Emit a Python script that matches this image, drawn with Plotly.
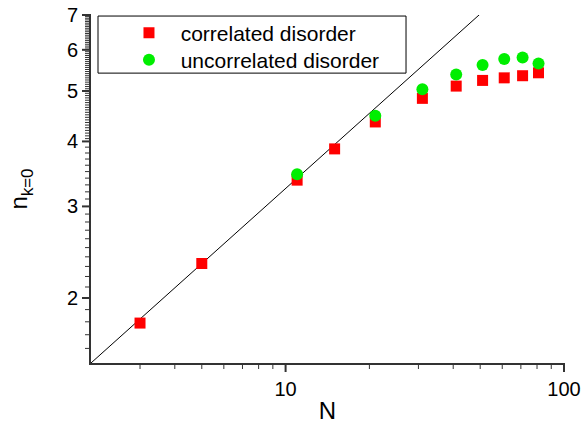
import numpy as np
import plotly.graph_objects as go

# ---- data ----
N_corr = [3, 5, 11, 15, 21, 31, 41, 51, 61, 71, 81]
n_corr = [1.79, 2.33, 3.37, 3.87, 4.36, 4.84, 5.11, 5.24, 5.30, 5.35, 5.42]

N_uncorr = [11, 21, 31, 41, 51, 61, 71, 81]
n_uncorr = [3.46, 4.48, 5.04, 5.38, 5.61, 5.76, 5.80, 5.65]

# power-law guide line  n = A * N^b
FIT_A = 1.0755
FIT_B = 0.48
fit_N = [2, 100]

x_major = [10, 100]
y_major = [2, 3, 4, 5, 6, 7]
x_range = [2, 100]
y_range = [1.5, 7]

FONT = "Liberation Sans, Arial, sans-serif"
AX = "#333333"
W, H = 582, 424
M = dict(l=91, r=18, t=15, b=61)
PW = W - M["l"] - M["r"]
PH = H - M["t"] - M["b"]

fit_n = [FIT_A * v ** FIT_B for v in fit_N]

fig = go.Figure()
fig.add_trace(go.Scatter(x=fit_N, y=fit_n, mode="lines",
                         line=dict(color="black", width=1),
                         showlegend=False, hoverinfo="skip"))
fig.add_trace(go.Scatter(x=N_corr, y=n_corr, mode="markers",
                         name="\u00a0\u00a0correlated disorder", legend="legend",
                         marker=dict(symbol="square", size=11, color="#FF0000",
                                     line=dict(width=0))))
fig.add_trace(go.Scatter(x=N_uncorr, y=n_uncorr, mode="markers",
                         name="\u00a0\u00a0uncorrelated disorder", legend="legend2",
                         marker=dict(symbol="circle", size=12, color="#00EE00",
                                     line=dict(width=0))))

x_minor = [v for d in (1, 10) for v in [k * d for k in range(2, 10)] if v > 2]
y_minor = sorted(set([round(float(v), 2) for v in np.arange(1.6, 4.0, 0.1)] +
                     [round(float(v), 2) for v in np.arange(4.0, 7.0, 0.05)]) - set(y_major))

xr = [float(np.log10(x_range[0])), float(np.log10(x_range[1]))]
yr = [float(np.log10(y_range[0])), float(np.log10(y_range[1]))]


def xfrac(v):
    return (np.log10(v) - xr[0]) / (xr[1] - xr[0])


def yfrac(v):
    return (np.log10(v) - yr[0]) / (yr[1] - yr[0])


# tick marks drawn as paper-referenced shapes, positioned from the tick values
LW = 2
shapes = []
for vals, ln, wd in ((x_major, 7, 2), (x_minor, 4, 1)):
    for v in vals:
        f = float(xfrac(v))
        shapes.append(dict(type="line", xref="paper", yref="paper",
                           x0=f, x1=f, y0=0, y1=-(LW + ln) / PH,
                           line=dict(color=AX, width=wd)))
for vals, ln, wd in ((y_major, 7, 2), (y_minor, 4, 1)):
    for v in vals:
        f = float(yfrac(v))
        shapes.append(dict(type="line", xref="paper", yref="paper",
                           y0=f, y1=f, x0=0, x1=-(LW + ln) / PW,
                           line=dict(color=AX, width=wd)))
# legend frame
shapes.append(dict(type="rect", xref="paper", yref="paper",
                   x0=0.0148, x1=0.666, y0=0.833, y1=0.997,
                   line=dict(color="black", width=1), fillcolor="rgba(0,0,0,0)"))

fig.update_xaxes(type="log", range=xr, tickmode="array", tickvals=x_major,
                 ticktext=[str(v) for v in x_major],
                 ticks="outside", ticklen=7, tickwidth=2, tickcolor="rgba(0,0,0,0)",
                 showline=True, linewidth=LW, linecolor=AX,
                 showgrid=False, zeroline=False, automargin=False,
                 tickfont=dict(family=FONT, size=20, color="black"),
                 title=dict(text="N", font=dict(family=FONT, size=24, color="black")))
fig.update_yaxes(type="log", range=yr, tickmode="array", tickvals=y_major,
                 ticktext=[str(v) for v in y_major],
                 ticks="outside", ticklen=7, tickwidth=2, tickcolor="rgba(0,0,0,0)",
                 showline=True, linewidth=LW, linecolor=AX,
                 showgrid=False, zeroline=False, automargin=False,
                 tickfont=dict(family=FONT, size=20, color="black"),
                 title=dict(text="n<sub>k=0</sub>", font=dict(family=FONT, size=24, color="black"),
                            standoff=32))

leg_common = dict(x=0.0803, xanchor="left", yanchor="middle",
                  bgcolor="rgba(0,0,0,0)", borderwidth=0,
                  font=dict(family=FONT, size=21, color="black"))

fig.update_layout(
    width=W, height=H, margin=M,
    paper_bgcolor="white", plot_bgcolor="white",
    font=dict(family=FONT, color="black"),
    shapes=shapes,
    legend=dict(y=(H - M["b"] - 33) / PH, **leg_common),
    legend2=dict(y=(H - M["b"] - 60) / PH, **leg_common),
)

fig.write_html("out.html")
